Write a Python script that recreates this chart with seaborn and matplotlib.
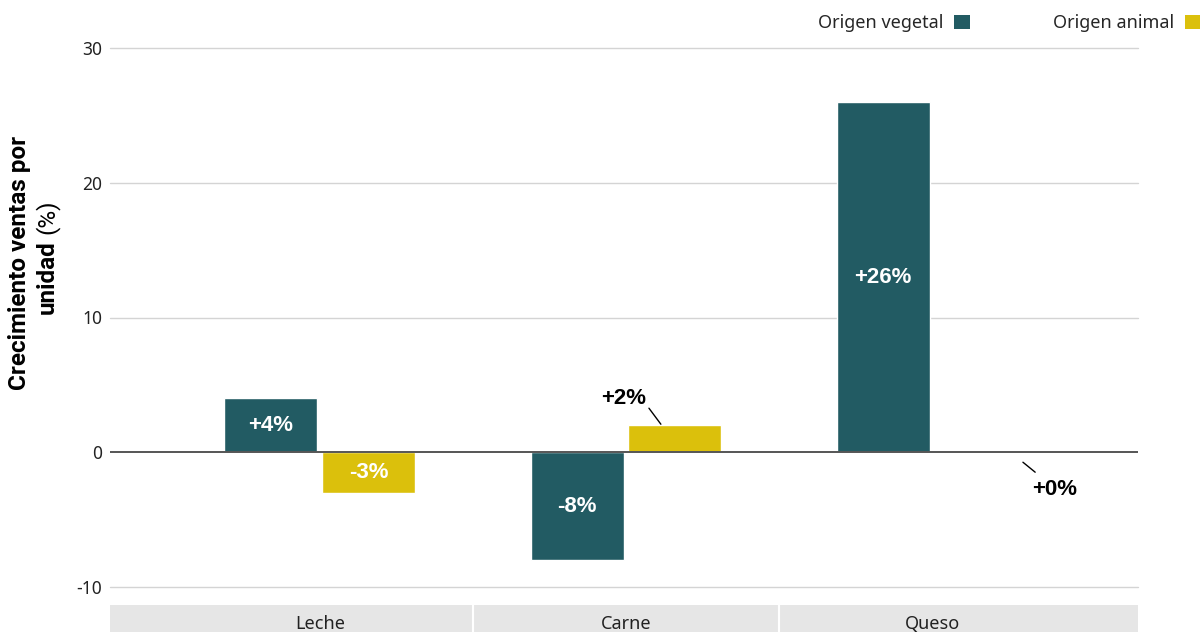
import numpy as np
import pandas as pd
import matplotlib
matplotlib.use("Agg")
import matplotlib.pyplot as plt
import seaborn as sns
from matplotlib.patches import Patch

categories = ["Leche", "Carne", "Queso"]
series = ["Origen vegetal", "Origen animal"]
vegetal = [4, -8, 26]
animal = [-3, 2, 0]
labels_vegetal = ["+4%", "-8%", "+26%"]
labels_animal = ["-3%", "+2%", "+0%"]
yticks = [-10, 0, 10, 20, 30]

colors = {"Origen vegetal": "#225b63", "Origen animal": "#dbc00c"}

df = pd.DataFrame({
    "categoria": categories * 2,
    "serie": [series[0]] * 3 + [series[1]] * 3,
    "valor": vegetal + animal,
})

sns.set_theme(style="white")
plt.rcParams["font.family"] = ["Noto Sans", "DejaVu Sans"]

W, H = 1202, 632
fig = plt.figure(figsize=(W / 100, H / 100), dpi=100)
ax = fig.add_axes([110 / W, 1 - 587 / H, (1138 - 110) / W, (587 - 48) / H])

sns.barplot(data=df, x="categoria", y="valor", hue="serie", order=categories,
            hue_order=series, palette=colors, width=0.64, gap=0.05,
            saturation=1, ax=ax, legend=False)

ax.set_xlim(-0.686, 2.673)
ax.set_ylim(-10, 30)
ax.set_yticks(yticks)
ax.set_yticklabels([str(t) for t in yticks], fontsize=12.5, color="#222222")
ax.tick_params(axis="y", length=0, pad=5.5)
ax.set_xticks([])
ax.set_xlabel("")
ax.set_ylabel("")
for s in ax.spines.values():
    s.set_visible(False)
for t in yticks:
    if t == 0:
        ax.axhline(0, color="#555555", lw=1.4, zorder=3)
    else:
        ax.axhline(t, color="#d4d4d4", lw=1, zorder=0, clip_on=False)

# value labels
off = 0.16
bold = dict(fontsize=16, fontweight="bold", family=["Liberation Sans", "DejaVu Sans"])
for i, (v, lab) in enumerate(zip(vegetal, labels_vegetal)):
    ax.text(i - off, v / 2, lab, ha="center", va="center", color="white", **bold)
ax.text(0 + off, animal[0] / 2, labels_animal[0], ha="center", va="center", color="white", **bold)

# small bars get their label outside, with a leader line
line = dict(arrowstyle="-", color="black", lw=1, shrinkA=0, shrinkB=0)
ax.text(0.993, 4.0, labels_animal[1], ha="center", va="center", color="black", **bold)
ax.annotate("", xy=(1.114, 2.08), xytext=(1.075, 3.27), arrowprops=line)
ax.text(2.40, -2.75, labels_animal[2], ha="center", va="center", color="black", **bold)
ax.annotate("", xy=(2.297, -0.74), xytext=(2.337, -1.48), arrowprops=line)

# category strip below the axes
strip = fig.add_axes([110 / W, 0, (1138 - 110) / W, 27 / H])
strip.set_xlim(ax.get_xlim())
strip.set_ylim(0, 1)
strip.set_facecolor("#e6e6e6")
strip.set_xticks([])
strip.set_yticks([])
for s in strip.spines.values():
    s.set_visible(False)
for i, c in enumerate(categories):
    strip.text(i, 0.3, c, ha="center", va="center", fontsize=13, color="#222222")
for xs in [0.5, 1.5]:
    strip.axvline(xs, color="white", lw=1.5)

# y label: bold with regular "(%)"
ylab = dict(fontsize=17.5, family=["Roboto", "DejaVu Sans"], color="black")
fig.text(20 / W, 1 - 263 / H, "Crecimiento ventas por", rotation=90, ha="center", va="center",
         fontweight="bold", **ylab)
fig.text(47 / W, 1 - 240 / H, "unidad", rotation=90, rotation_mode="anchor", ha="right", va="center",
         fontweight="bold", **ylab)
fig.text(47 / W, 1 - 234 / H, "(%)", rotation=90, rotation_mode="anchor", ha="left", va="center",
         **ylab)

handles = [Patch(facecolor=colors[s], edgecolor="none") for s in series]
fig.legend(handles, series, ncol=2, markerfirst=False, loc="upper right",
           bbox_to_anchor=(1.005, 0.99), frameon=False, fontsize=13,
           handlelength=0.85, handleheight=0.85, handletextpad=0.6,
           columnspacing=4.6, borderaxespad=0.1, borderpad=0.35)

fig.savefig("out.png", dpi=100)
